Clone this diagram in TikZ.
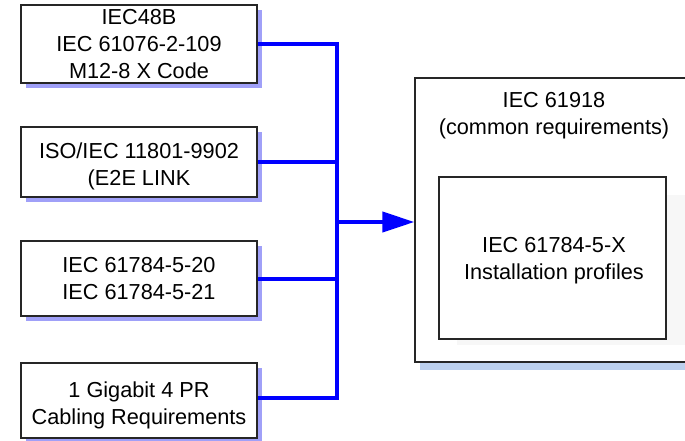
\documentclass[tikz,border=0pt]{standalone}
\usepackage{fontspec}
\setmainfont{Liberation Sans}
\usetikzlibrary{arrows.meta,shadows}
\definecolor{busblue}{HTML}{0000FF}
\definecolor{lav}{HTML}{A0A0F8}
\definecolor{paleblue}{HTML}{BCD0EE}
\begin{document}
\begin{tikzpicture}[x=1pt,y=-1pt,
  every node/.style={font=\fontsize{21.7}{26.7}\selectfont},
  srcbox/.style={draw=black!85, line width=1.3pt, fill=white,
    minimum width=236pt, inner sep=0pt,
    drop shadow={fill=lav, opacity=1, shadow xshift=5pt, shadow yshift=-5pt}},
  bigbox/.style={draw=black!85, line width=1.3pt, fill=white,
    minimum width=278pt, minimum height=284pt, inner sep=0pt,
    drop shadow={fill=paleblue, opacity=1, shadow xshift=5pt, shadow yshift=-8pt}},
  innerbox/.style={draw=black!85, line width=1.3pt, fill=white,
    minimum width=227pt, minimum height=162pt, inner sep=0pt},
  label/.style={align=center, inner sep=0pt},
  bus/.style={draw=busblue, line width=4pt},
  arr/.style={bus, -{Triangle[length=32pt,width=20pt]}}]
\useasboundingbox (0,0) rectangle (685,440);
\fill[white] (0,0) rectangle (685,440);
% source boxes
\node[srcbox, minimum height=78pt] (b1) at (139,44) {};
\node[srcbox, minimum height=70pt] (b2) at (139,162) {};
\node[srcbox, minimum height=75pt] (b3) at (139,278.5) {};
\node[srcbox, minimum height=75pt] (b4) at (139,400.5) {};
\node[label] (t1) at (b1.center) {IEC48B\\IEC 61076-2-109\\M12-8 X Code};
\node[label, yshift=-4.6pt] (t2) at (b2.center) {ISO/IEC 11801-9902\\(E2E LINK};
\node[label] (t3) at (b3.center) {IEC 61784-5-20\\IEC 61784-5-21};
\node[label, yshift=-4.6pt] (t4) at (b4.center) {1 Gigabit 4 PR\\Cabling Requirements};
% target
\node[bigbox] (big) at (554,220) {};
\fill[black!3] (457,195) rectangle (685,345);
\node[innerbox] (inner) at (552.5,258) {};
\node[label, yshift=-2.5pt] (t6) at (554,258) {IEC 61784-5-X\\Installation profiles};
\node[label, yshift=-2.3pt] (title) at (554,113.5) {IEC 61918\\(common requirements)};
% connectors
\coordinate (jt) at (337,44);
\coordinate (jb) at (337,398);
\coordinate (ja) at (337,222);
\draw[bus, line join=miter] (b1.east) -- (jt) -- (jb) -- (b4.east |- jb);
\draw[bus] (b2.east) -- (b2.east -| jt);
\draw[bus] (b3.east) -- (b3.east -| jt);
\draw[arr] (ja) -- (ja -| big.west);
\end{tikzpicture}
\end{document}
